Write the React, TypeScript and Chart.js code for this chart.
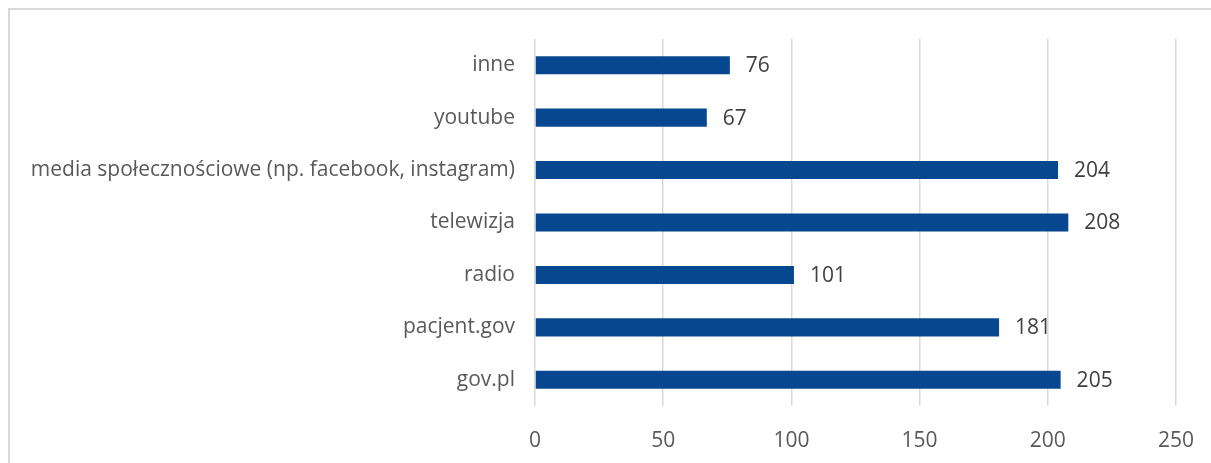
import React, { useEffect, useRef } from "react";
import { Chart, registerables } from "chart.js";

Chart.register(...registerables);

const categories = [
  "inne",
  "youtube",
  "media społecznościowe (np. facebook, instagram)",
  "telewizja",
  "radio",
  "pacjent.gov",
  "gov.pl",
];
const values = [76, 67, 204, 208, 101, 181, 205];
const xMax = 250;
const xStep = 50;

const FONT = "'Open Sans'";
const FONT_SIZE = 21;

const valueLabels = {
  id: "valueLabels",
  afterDatasetsDraw(chart: any) {
    const ctx = chart.ctx;
    const meta = chart.getDatasetMeta(0);
    ctx.save();
    ctx.font = `${FONT_SIZE}px ${FONT}`;
    ctx.fillStyle = "#404040";
    ctx.textAlign = "left";
    ctx.textBaseline = "middle";
    meta.data.forEach((bar: any, i: number) => {
      ctx.fillText(String(values[i]), bar.x + 16, bar.y + 1);
    });
    ctx.restore();
  },
};

export default function App() {
  const ref = useRef<HTMLCanvasElement>(null);
  useEffect(() => {
    document.body.style.margin = "0";
    const chart = new Chart(ref.current!, {
      type: "bar",
      data: {
        labels: categories,
        datasets: [
          {
            data: values,
            backgroundColor: "#064790",
            borderWidth: 0,
            barPercentage: 0.345,
            categoryPercentage: 1,
          },
        ],
      },
      options: {
        indexAxis: "y",
        animation: false,
        responsive: false,
        maintainAspectRatio: false,
        layout: { padding: { top: 39, right: 35, bottom: 0, left: 0 } },
        plugins: { legend: { display: false }, tooltip: { enabled: false } },
        scales: {
          x: {
            min: 0,
            max: xMax,
            ticks: {
              stepSize: xStep,
              color: "#595959",
              font: { family: FONT, size: FONT_SIZE },
              padding: 22,
            },
            grid: { color: "#d9d9d9", lineWidth: 1.5, drawTicks: false },
            border: { display: false },
            afterFit: (s: any) => {
              s.height = 57;
              s.paddingRight = 0;
              s.paddingLeft = 0;
            },
          },
          y: {
            ticks: {
              color: "#595959",
              font: { family: FONT, size: FONT_SIZE },
              padding: 20,
              autoSkip: false,
            },
            grid: { display: false, drawTicks: false },
            border: { display: false },
            afterFit: (s: any) => {
              s.width = 535;
            },
          },
        },
      },
      plugins: [valueLabels],
    });
    return () => chart.destroy();
  }, []);
  return (
    <div style={{ position: "relative", width: 1211, height: 463, overflow: "hidden", background: "#fff" }}>
      <div
        style={{
          position: "absolute",
          left: 8,
          top: 8,
          width: 1240,
          height: 500,
          border: "2px solid #d9d9d9",
          boxSizing: "border-box",
        }}
      />
      <canvas ref={ref} width={1211} height={463} style={{ position: "absolute", left: 0, top: 0 }} />
    </div>
  );
}
